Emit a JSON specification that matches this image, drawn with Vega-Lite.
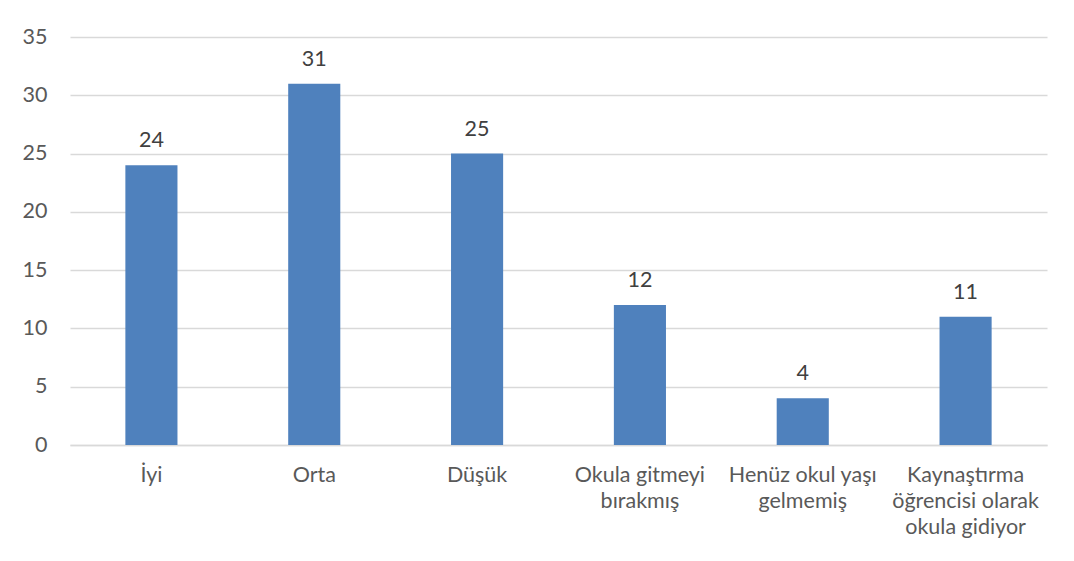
{
  "$schema": "https://vega.github.io/schema/vega-lite/v6.json",
  "autosize": "none",
  "width": 977,
  "height": 408,
  "padding": {"left": 70, "top": 37, "right": 27, "bottom": 116},
  "background": "white",
  "config": {
    "view": {"stroke": null},
    "font": "Lato"
  },
  "data": {
    "values": [
      {"kategori": "İyi", "deger": 24},
      {"kategori": "Orta", "deger": 31},
      {"kategori": "Düşük", "deger": 25},
      {"kategori": "Okula gitmeyi|bırakmış", "deger": 12},
      {"kategori": "Henüz okul yaşı|gelmemiş", "deger": 4},
      {"kategori": "Kaynaştırma|öğrencisi olarak|okula gidiyor", "deger": 11}
    ]
  },
  "encoding": {
    "x": {
      "field": "kategori",
      "type": "nominal",
      "sort": null,
      "scale": {"paddingInner": 0.68, "paddingOuter": 0.34},
      "axis": {
        "title": null,
        "labelAngle": 0,
        "labelExpr": "split(datum.value, '|')",
        "labelFontSize": 21.5,
        "labelColor": "#595959",
        "labelLineHeight": 26,
        "labelPadding": 19,
        "ticks": false,
        "domainColor": "#d9d9d9",
        "domainWidth": 1.5,
        "labelBaseline": "top"
      }
    },
    "y": {
      "field": "deger",
      "type": "quantitative",
      "scale": {"domain": [0, 35]},
      "axis": {
        "title": null,
        "values": [0, 5, 10, 15, 20, 25, 30, 35],
        "ticks": false,
        "domain": false,
        "gridColor": "#d9d9d9",
        "gridWidth": 1.5,
        "labelFontSize": 21.5,
        "labelColor": "#595959",
        "labelPadding": 23
      }
    }
  },
  "layer": [
    {"mark": {"type": "bar", "color": "#4F81BD"}},
    {
      "mark": {"type": "text", "dy": -24, "fontSize": 21.5, "color": "#404040"},
      "encoding": {"text": {"field": "deger", "type": "quantitative"}}
    }
  ]
}
